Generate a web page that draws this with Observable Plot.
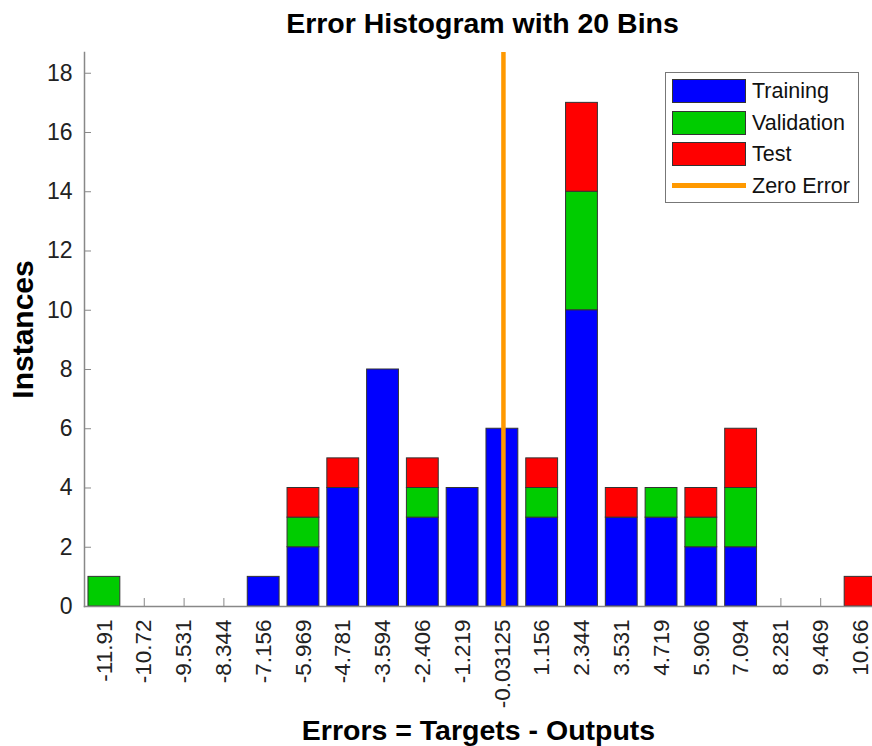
<!DOCTYPE html>
<html>
<head>
<meta charset="utf-8">
<script src="https://cdn.jsdelivr.net/npm/d3@7"></script>
<script src="https://cdn.jsdelivr.net/npm/@observablehq/plot@0.6"></script>
<style>
  html, body { margin: 0; padding: 0; background: #fff; overflow: hidden; }
  #wrap { position: relative; width: 872px; height: 746px; overflow: hidden; font-family: "Liberation Sans", Arial, sans-serif; }
  #wrap svg { overflow: hidden; }
  #legend { position: absolute; left: 665px; top: 72px; width: 192px; height: 129px; border: 1px solid #777; background: #fff; box-sizing: content-box; }
  .row { position: absolute; left: 6px; height: 24px; display: flex; align-items: center; }
  .sw { width: 72px; height: 22px; border: 1px solid #333; }
  .ln { width: 74px; height: 4.5px; background: #ff9900; }
  .lab { margin-left: 6px; font-size: 21.5px; color: #111; line-height: 24px; }
</style>
</head>
<body>
<div id="wrap"></div>
<script>
const labels = ["-11.91","-10.72","-9.531","-8.344","-7.156","-5.969","-4.781","-3.594","-2.406","-1.219","-0.03125","1.156","2.344","3.531","4.719","5.906","7.094","8.281","9.469","10.66"];
const centers = [-11.91,-10.72,-9.531,-8.344,-7.156,-5.969,-4.781,-3.594,-2.406,-1.219,-0.03125,1.156,2.344,3.531,4.719,5.906,7.094,8.281,9.469,10.66];
const training   = [0,0,0,0,1,2,4,8,3,4,6,3,10,3,3,2,2,0,0,0];
const validation = [1,0,0,0,0,1,0,0,1,0,0,1,4,0,1,1,2,0,0,0];
const test       = [0,0,0,0,0,1,1,0,1,0,0,1,3,1,0,1,2,0,0,1];
const seriesNames = ["Training","Validation","Test"];
const seriesColors = ["#0000ff","#00cc00","#ff0000"];
const yTicks = [0,2,4,6,8,10,12,14,16,18];
const zeroError = [0];
const title = "Error Histogram with 20 Bins";
const xTitle = "Errors = Targets - Outputs";
const yTitle = "Instances";

const binWidth = (centers[centers.length-1] - centers[0]) / (centers.length - 1);
const half = binWidth * 0.4;
const seriesArrays = [training, validation, test];
const rows = [];
centers.forEach((c, i) => {
  let base = 0;
  seriesArrays.forEach((arr, s) => {
    const v = arr[i];
    if (v > 0) rows.push({center: c, series: seriesNames[s], y1: base, y2: base + v});
    base += v;
  });
});

const plot = Plot.plot({
  width: 872,
  height: 746,
  marginLeft: 84,
  marginRight: -8,
  marginTop: 52,
  marginBottom: 140,
  style: {fontFamily: "Liberation Sans, Arial, sans-serif", background: "#fff", color: "#222"},
  x: {domain: [centers[0] - binWidth/2, centers[centers.length-1] + binWidth/2], label: null},
  y: {domain: [0, 18.7], label: null},
  color: {domain: seriesNames, range: seriesColors},
  marks: [
    Plot.axisY({ticks: yTicks, tickSize: -7, tickFormat: () => "", color: "#888", label: null}),
    Plot.axisY({ticks: yTicks, tickSize: 0, tickPadding: 12, fontSize: 23, color: "#222", label: null}),
    Plot.axisX({ticks: centers, tickSize: -8, tickFormat: () => "", color: "#888", label: null}),
    Plot.axisX({ticks: centers, tickSize: 0, tickPadding: 13, tickRotate: -90, fontSize: 22.5, color: "#222", label: null,
      tickFormat: d => labels[centers.indexOf(d)]}),
    Plot.rect(rows, {x1: d => d.center - half, x2: d => d.center + half, y1: "y1", y2: "y2", fill: "series", stroke: "#333", strokeWidth: 1}),
    Plot.frame({anchor: "left", stroke: "#888", strokeWidth: 1.5}),
    Plot.frame({anchor: "bottom", stroke: "#888", strokeWidth: 1.5}),
    Plot.ruleX(zeroError, {stroke: "#ff9900", strokeWidth: 4.5}),
    Plot.text([title], {frameAnchor: "top", dy: -20, lineAnchor: "bottom", fontSize: 28.5, fontWeight: "bold", fill: "#000"}),
    Plot.text([xTitle], {frameAnchor: "bottom", dy: 133, dx: -4, lineAnchor: "bottom", fontSize: 28.5, fontWeight: "bold", fill: "#000"}),
    Plot.text([yTitle], {frameAnchor: "left", dx: -52, rotate: -90, textAnchor: "middle", lineAnchor: "bottom", fontSize: 30, fontWeight: "bold", fill: "#000"})
  ]
});
const wrap = document.getElementById("wrap");
wrap.appendChild(plot);

// legend
const legend = document.createElement("div");
legend.id = "legend";
const entries = seriesNames.map((n, i) => ({name: n, color: seriesColors[i], line: false}));
entries.push({name: "Zero Error", color: "#ff9900", line: true});
entries.forEach((e, i) => {
  const row = document.createElement("div");
  row.className = "row";
  row.style.top = (6 + i * 31.5) + "px";
  const sw = document.createElement("div");
  sw.className = e.line ? "ln" : "sw";
  sw.style.background = e.color;
  const lab = document.createElement("span");
  lab.className = "lab";
  lab.textContent = e.name;
  row.appendChild(sw);
  row.appendChild(lab);
  legend.appendChild(row);
});
wrap.appendChild(legend);
</script>
</body>
</html>
